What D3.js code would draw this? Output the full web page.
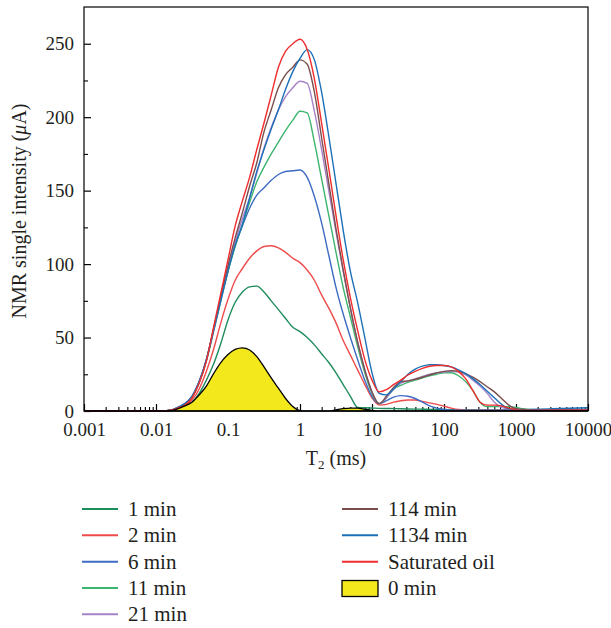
<!DOCTYPE html>
<html>
<head>
<meta charset="utf-8">
<script src="https://cdn.jsdelivr.net/npm/d3@7"></script>
<style>
  body { margin: 0; background: #fff; }
  svg text { font-family: "Liberation Serif", "Times New Roman", Times, serif !important; fill: #231f20; }
</style>
</head>
<body>
<svg id="chart" width="611" height="628" font-family="Liberation Serif"></svg>
<script>
// log10 of T2 (ms) at which the curves were read
const log10T2 = [-3, -2.0, -1.9, -1.8, -1.7, -1.6, -1.5, -1.4, -1.3, -1.2,
  -1.1, -1.0, -0.9, -0.8, -0.7, -0.6, -0.5, -0.4, -0.3, -0.2,
  -0.1, 0.0, 0.1, 0.2, 0.3, 0.4, 0.5, 0.6, 0.7, 0.8,
  0.9, 1.0, 1.1, 1.2, 1.3, 1.4, 1.5, 1.6, 1.7, 1.8,
  1.9, 2.0, 2.1, 2.2, 2.3, 2.4, 2.5, 2.6, 2.7, 2.8,
  2.9, 3.0, 3.1, 3.2, 3.5, 4.0];

const min1 = [0, 0, 0, 0.3, 1.5, 3.5, 6, 12, 21, 32,
  46, 62, 74, 81, 84.5, 85, 81, 75, 69, 63,
  57, 54, 50, 45, 39, 33, 26, 18, 10, 2.5,
  2.2, 2, 1.8, 1.7, 1.6, 1.5, 1.4, 1.3, 1.2, 1.1,
  1, 1, 0.9, 0.8, 0.8, 0.7, 0.6, 0.6, 0.5, 0.5,
  0.5, 0.5, 0.5, 0.5, 0.5, 0.5];

const min2 = [0, 0, 0, 0.3, 2, 4, 7.5, 15, 27, 42,
  60, 76, 89, 97, 104, 109, 112, 112.5, 111, 108,
  104, 101, 96, 89, 79, 70, 60, 48, 38, 28,
  18, 9, 4, 4.5, 6, 7, 7.5, 7.5, 6.5, 5.5,
  4.5, 3.3, 2, 1, 0.6, 0.5, 0.5, 0.5, 0.5, 0.5,
  0.5, 0.5, 0.5, 0.5, 0.5, 0.5];

const min6 = [0, 0, 0, 0.5, 2.5, 5, 10, 20, 35, 55,
  76, 96, 113, 126, 138, 147, 152, 157, 161, 163,
  163.5, 164, 159, 146, 128, 106, 84, 66, 50, 35,
  21, 10, 5, 7, 9.5, 10.5, 10, 8.5, 6, 3.5,
  2, 1, 0.6, 0.5, 0.5, 0.5, 0.5, 0.5, 0.5, 0.5,
  0.5, 0.5, 0.6, 0.6, 0.8, 1.0];

const min11 = [0, 0, 0, 0.5, 2, 4.5, 9, 19, 34, 54,
  75, 95, 112, 127, 142, 156, 166, 175, 183, 191,
  198, 204, 203, 183, 158, 133, 108, 84, 64, 44,
  26, 12, 5, 9, 15, 17.5, 19.5, 21, 22.5, 24,
  25, 26, 26, 24, 20, 14, 6, 3, 3, 3,
  3, 2.5, 1.5, 1, 0.8, 0.8];

const min21 = [0, 0, 0, 0.5, 2, 4.5, 9.5, 19.5, 35, 55,
  77, 97, 115, 131, 145, 162, 179, 193, 205, 214,
  220, 224.5, 223, 204, 178, 150, 122, 95, 70, 47,
  28, 13, 5, 9, 15, 19, 20.5, 22, 23.5, 25,
  26, 26.5, 27, 26.5, 24.5, 21, 17, 12, 6, 2.5,
  1.5, 1, 0.8, 0.8, 0.8, 0.8];

const min114 = [0, 0, 0, 0.5, 2, 4.5, 9.5, 20, 35, 56,
  78, 99, 118, 135, 153, 169, 190, 205, 220, 229,
  234, 239, 236, 217, 186, 155, 124, 96, 70, 47,
  28, 13, 5, 10, 16, 20, 20.5, 21.5, 23, 24.5,
  26, 27, 27.5, 27, 25.5, 23, 20, 16.5, 13, 8.5,
  4, 1.5, 1, 0.8, 0.8, 0.8];

const min1134 = [0, 0, 0, 0.5, 2.5, 5, 10, 20, 35, 55,
  75, 95, 113, 127, 145, 163, 178, 192, 205, 219,
  231, 240, 246, 239, 217, 187, 155, 123, 95, 74,
  50, 26, 12, 11, 15, 20, 25, 28.5, 30.5, 31.5,
  31.5, 31, 30, 28, 25.5, 22, 18, 13.5, 9, 4.5,
  1.5, 0.8, 0.8, 1, 1.5, 2.2];

const saturatedOil = [0, 0, 0, 0.5, 2, 4, 9, 19, 34, 57,
  80, 103, 126, 143, 159, 178, 196, 215, 234, 245,
  250, 253, 246, 226, 196, 165, 133, 103, 77, 55,
  35, 21, 13, 14.5, 18, 21, 24.5, 27, 29, 30.5,
  31, 31, 30, 27, 22, 14, 6, 4, 4, 3.5,
  2, 0.8, 0.6, 0.6, 0.6, 0.6];

const min0 = [0, 0, 0, 0.3, 1.5, 3.5, 6, 11, 17, 25.5,
  33, 38.5, 42, 43, 41.5, 37, 30, 22.5, 15.5, 8.5,
  3, 0.3, 0, 0, 0, 0, 0.8, 1.6, 2, 1.9,
  1.2, 0.4, 0, 0, 0, 0, 0, 0, 0, 0,
  0, 0, 0, 0, 0, 0, 0, 0, 0, 0,
  0, 0, 0, 0, 0, 0];

const lineNames = ["1 min", "2 min", "6 min", "11 min", "21 min", "114 min", "1134 min", "Saturated oil"];
const lineValues = [min1, min2, min6, min11, min21, min114, min1134, saturatedOil];
const lineColors = ["#1f8c5c", "#ef4b4b", "#3d6bc3", "#3cb46e", "#a682c8", "#7a4d4d", "#1c70b8", "#f02c2c"];
const areaName = "0 min";

const xTicks = [0.001, 0.01, 0.1, 1, 10, 100, 1000, 10000];
const xTickLabels = ["0.001", "0.01", "0.1", "1", "10", "100", "1000", "10000"];
const yTicks = [0, 50, 100, 150, 200, 250];
const yMinorTicks = [25, 75, 125, 175, 225];

const FONT = "'Liberation Serif', 'Times New Roman', Times, serif";
const svg = d3.select("#chart").attr("font-family", FONT);
const margin = { left: 84, right: 588, top: 7, bottom: 411 };

const x = d3.scaleLog().domain([0.001, 10000]).range([margin.left, margin.right]);
const y = d3.scaleLinear().domain([0, 275]).range([margin.bottom, margin.top]);

const T2 = log10T2.map(v => Math.pow(10, v));

// minor x ticks
const xMinor = [];
xTicks.slice(0, -1).forEach(t => { for (let k = 2; k <= 9; k++) xMinor.push(t * k); });

svg.append("g")
  .attr("transform", `translate(0,${margin.bottom})`)
  .call(d3.axisBottom(x).tickValues(xMinor).tickSizeInner(-4).tickSizeOuter(0).tickFormat(""))
  .call(g => g.select(".domain").remove())
  .selectAll("line").attr("stroke", "#000").attr("stroke-width", 1.1);

svg.append("g")
  .attr("transform", `translate(0,${margin.bottom})`)
  .call(d3.axisBottom(x).tickValues(xTicks).tickSizeInner(-7).tickSizeOuter(0).tickPadding(12)
    .tickFormat((d, i) => xTickLabels[i]))
  .attr("font-family", FONT)
  .call(g => g.select(".domain").remove())
  .call(g => g.selectAll("line").attr("stroke", "#000").attr("stroke-width", 1.2))
  .call(g => g.selectAll("text").attr("font-size", 19).attr("font-family", FONT).attr("fill", "#231f20"));

svg.append("g")
  .attr("transform", `translate(${margin.left},0)`)
  .call(d3.axisLeft(y).tickValues(yMinorTicks).tickSizeInner(-4).tickSizeOuter(0).tickFormat(""))
  .call(g => g.select(".domain").remove())
  .selectAll("line").attr("stroke", "#000").attr("stroke-width", 1.1);

svg.append("g")
  .attr("transform", `translate(${margin.left},0)`)
  .call(d3.axisLeft(y).tickValues(yTicks).tickSizeInner(-7).tickSizeOuter(0).tickPadding(10))
  .attr("font-family", FONT)
  .call(g => g.select(".domain").remove())
  .call(g => g.selectAll("line").attr("stroke", "#000").attr("stroke-width", 1.2))
  .call(g => g.selectAll("text").attr("font-size", 19).attr("font-family", FONT).attr("fill", "#231f20"));

// curves
const line = d3.line()
  .x((d, i) => x(T2[i]))
  .y(d => y(d))
  .curve(d3.curveMonotoneX);

svg.append("g").selectAll("path")
  .data(lineValues)
  .enter()
  .append("path")
  .attr("d", d => line(d))
  .attr("fill", "none")
  .attr("stroke", (d, i) => lineColors[i])
  .attr("stroke-width", 1.4);

const area = d3.area()
  .x((d, i) => x(T2[i]))
  .y0(y(0))
  .y1(d => y(d))
  .curve(d3.curveMonotoneX);

svg.append("path")
  .attr("d", area(min0))
  .attr("fill", "#f2e81c")
  .attr("stroke", "#000")
  .attr("stroke-width", 1.3);

// frame
svg.append("rect")
  .attr("x", margin.left)
  .attr("y", margin.top)
  .attr("width", margin.right - margin.left)
  .attr("height", margin.bottom - margin.top)
  .attr("fill", "none")
  .attr("stroke", "#000")
  .attr("stroke-width", 1.2);

// axis titles
const xt = svg.append("text")
  .attr("x", (margin.left + margin.right) / 2)
  .attr("y", 465)
  .attr("text-anchor", "middle")
  .attr("font-size", 20);
xt.append("tspan").text("T");
xt.append("tspan").attr("font-size", 13).attr("dy", 4).text("2");
xt.append("tspan").attr("dy", -4).text(" (ms)");

const yt = svg.append("text")
  .attr("transform", `translate(26,${(margin.top + margin.bottom) / 2 + 2}) rotate(-90)`)
  .attr("text-anchor", "middle")
  .attr("font-size", 20);
yt.append("tspan").text("NMR single intensity (");
yt.append("tspan").attr("font-style", "italic").text("\u03bc");
yt.append("tspan").text("A)");

// legend
const legendRows = [509, 535.3, 561.7, 588, 614.3];
const legend = svg.append("g");
lineNames.forEach((name, i) => {
  const col = i < 5 ? 0 : 1;
  const row = i < 5 ? i : i - 5;
  const lx = col === 0 ? 82 : 342;
  const ly = legendRows[row];
  legend.append("line")
    .attr("x1", lx).attr("x2", lx + 36)
    .attr("y1", ly).attr("y2", ly)
    .attr("stroke", lineColors[i])
    .attr("stroke-width", 2);
  legend.append("text")
    .attr("x", lx + 46).attr("y", ly).attr("dy", "0.33em")
    .attr("font-size", 21)
    .text(name);
});
legend.append("rect")
  .attr("x", 342).attr("y", legendRows[3] - 7.5)
  .attr("width", 36).attr("height", 16)
  .attr("fill", "#f2e81c")
  .attr("stroke", "#000")
  .attr("stroke-width", 1.3);
legend.append("text")
  .attr("x", 388).attr("y", legendRows[3]).attr("dy", "0.33em")
  .attr("font-size", 21)
  .text(areaName);
</script>
</body>
</html>
